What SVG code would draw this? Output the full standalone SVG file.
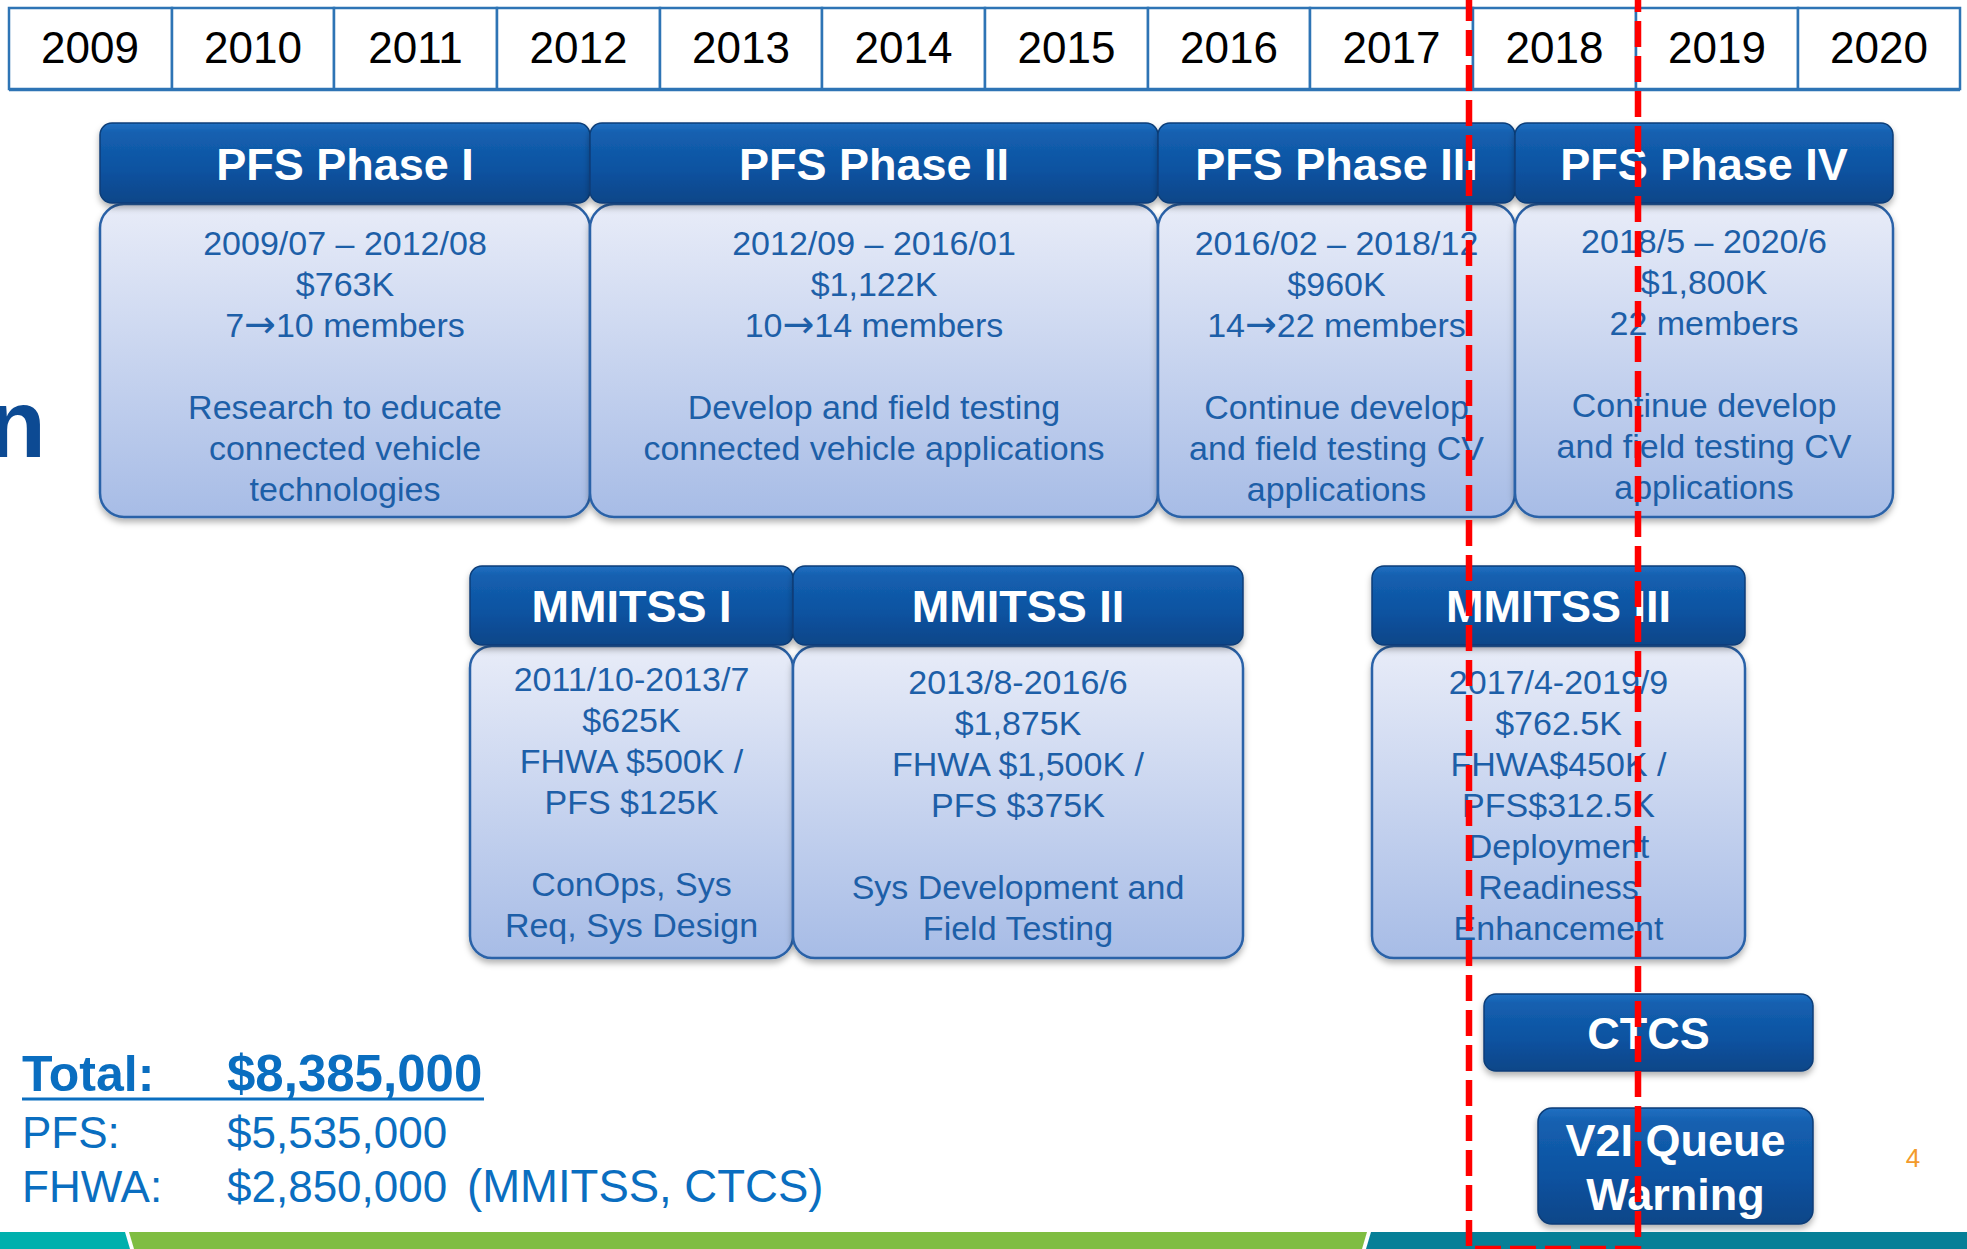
<svg xmlns="http://www.w3.org/2000/svg" width="1967" height="1249" viewBox="0 0 1967 1249">
<style>
  .yr { font-family: "Liberation Sans", Arial, sans-serif; font-size: 44px; fill: #000; text-anchor: middle; }
  .cell { fill: #fff; stroke: #2e74b5; stroke-width: 2.5; }
  .hdr { fill: url(#hdrGrad); stroke: #0a3d78; stroke-width: 1.5; filter: url(#shadow); }
  .body { fill: url(#bodyGrad); stroke: #2a62a8; stroke-width: 2.5; filter: url(#shadow); }
  .ht { font-family: "Liberation Sans", Arial, sans-serif; font-weight: bold; font-size: 45px; fill: #fff; text-anchor: middle; }
  .bt { font-family: "Liberation Sans", Arial, sans-serif; font-size: 34px; fill: #1d5fa8; text-anchor: middle; }
  .arr { font-family: "DejaVu Sans", sans-serif; font-size: 38px; }
  .tot { font-family: "Liberation Sans", Arial, sans-serif; fill: #0a6ec0; }
  .red { fill: none; stroke: #ff0000; stroke-width: 6.5; stroke-dasharray: 26 9; }
</style>
<defs>
  <linearGradient id="hdrGrad" x1="0" y1="0" x2="0" y2="1">
    <stop offset="0" stop-color="#2270c2"/>
    <stop offset="0.12" stop-color="#1460b0"/>
    <stop offset="0.6" stop-color="#0d52a0"/>
    <stop offset="1" stop-color="#0a4688"/>
  </linearGradient>
  <linearGradient id="bodyGrad" x1="0" y1="0" x2="0" y2="1">
    <stop offset="0" stop-color="#e8ecf8"/>
    <stop offset="1" stop-color="#a7bce6"/>
  </linearGradient>
  <filter id="shadow" x="-5%" y="-10%" width="110%" height="125%">
    <feDropShadow dx="0" dy="4" stdDeviation="3" flood-color="#000" flood-opacity="0.3"/>
  </filter>
</defs>

<g id="timeline">
  <rect class="cell" x="9" y="8" width="163" height="81"/>
  <rect class="cell" x="172" y="8" width="162" height="81"/>
  <rect class="cell" x="334" y="8" width="163" height="81"/>
  <rect class="cell" x="497" y="8" width="163" height="81"/>
  <rect class="cell" x="660" y="8" width="162" height="81"/>
  <rect class="cell" x="822" y="8" width="163" height="81"/>
  <rect class="cell" x="985" y="8" width="163" height="81"/>
  <rect class="cell" x="1148" y="8" width="162" height="81"/>
  <rect class="cell" x="1310" y="8" width="163" height="81"/>
  <rect class="cell" x="1473" y="8" width="163" height="81"/>
  <rect class="cell" x="1636" y="8" width="162" height="81"/>
  <rect class="cell" x="1798" y="8" width="162" height="81"/>
  <line x1="9" y1="90.5" x2="1960" y2="90.5" stroke="#2e74b5" stroke-width="1.5"/>
  <text class="yr" x="90" y="63">2009</text>
  <text class="yr" x="253" y="63">2010</text>
  <text class="yr" x="415.5" y="63">2011</text>
  <text class="yr" x="578.5" y="63">2012</text>
  <text class="yr" x="741" y="63">2013</text>
  <text class="yr" x="903.5" y="63">2014</text>
  <text class="yr" x="1066.5" y="63">2015</text>
  <text class="yr" x="1229" y="63">2016</text>
  <text class="yr" x="1391.5" y="63">2017</text>
  <text class="yr" x="1554.5" y="63">2018</text>
  <text class="yr" x="1717" y="63">2019</text>
  <text class="yr" x="1879" y="63">2020</text>
</g>

<text x="46" y="457" text-anchor="end" font-family="Liberation Sans, Arial, sans-serif" font-weight="bold" font-size="96" fill="#0c4a93">n</text>

<g id="pfs1">
  <rect class="body" x="100" y="204" width="490" height="313" rx="24"/>
  <rect class="hdr" x="100" y="123" width="490" height="80" rx="12"/>
  <text class="ht" x="345" y="180">PFS Phase I</text>
  <text class="bt"><tspan x="345" y="254.5">2009/07 – 2012/08</tspan><tspan x="345" y="295.5">$763K</tspan><tspan x="345" y="336.5">7<tspan class="arr">→</tspan>10 members</tspan><tspan x="345" y="418.5">Research to educate</tspan><tspan x="345" y="459.5">connected vehicle</tspan><tspan x="345" y="500.5">technologies</tspan></text>
</g>

<g id="pfs2">
  <rect class="body" x="590" y="204" width="568" height="313" rx="24"/>
  <rect class="hdr" x="590" y="123" width="568" height="80" rx="12"/>
  <text class="ht" x="874" y="180">PFS Phase II</text>
  <text class="bt"><tspan x="874" y="254.5">2012/09 – 2016/01</tspan><tspan x="874" y="295.5">$1,122K</tspan><tspan x="874" y="336.5">10<tspan class="arr">→</tspan>14 members</tspan><tspan x="874" y="418.5">Develop and field testing</tspan><tspan x="874" y="459.5">connected vehicle applications</tspan></text>
</g>

<g id="pfs3">
  <rect class="body" x="1158" y="204" width="357" height="313" rx="24"/>
  <rect class="hdr" x="1158" y="123" width="357" height="80" rx="12"/>
  <text class="ht" x="1336.5" y="180">PFS Phase III</text>
  <text class="bt"><tspan x="1336.5" y="254.5">2016/02 – 2018/12</tspan><tspan x="1336.5" y="295.5">$960K</tspan><tspan x="1336.5" y="336.5">14<tspan class="arr">→</tspan>22 members</tspan><tspan x="1336.5" y="418.5">Continue develop</tspan><tspan x="1336.5" y="459.5">and field testing CV</tspan><tspan x="1336.5" y="500.5">applications</tspan></text>
</g>

<g id="pfs4">
  <rect class="body" x="1515" y="204" width="378" height="313" rx="24"/>
  <rect class="hdr" x="1515" y="123" width="378" height="80" rx="12"/>
  <text class="ht" x="1704" y="180">PFS Phase IV</text>
  <text class="bt"><tspan x="1704" y="253">2018/5 – 2020/6</tspan><tspan x="1704" y="294">$1,800K</tspan><tspan x="1704" y="335">22 members</tspan><tspan x="1704" y="417">Continue develop</tspan><tspan x="1704" y="458">and field testing CV</tspan><tspan x="1704" y="499">applications</tspan></text>
</g>

<g id="mmitss1">
  <rect class="body" x="470" y="646" width="323" height="312" rx="22"/>
  <rect class="hdr" x="470" y="566" width="323" height="79" rx="12"/>
  <text class="ht" x="631.5" y="622">MMITSS I</text>
  <text class="bt"><tspan x="631.5" y="691">2011/10-2013/7</tspan><tspan x="631.5" y="732">$625K</tspan><tspan x="631.5" y="773">FHWA $500K /</tspan><tspan x="631.5" y="814">PFS $125K</tspan><tspan x="631.5" y="896">ConOps, Sys</tspan><tspan x="631.5" y="937">Req, Sys Design</tspan></text>
</g>

<g id="mmitss2">
  <rect class="body" x="793" y="646" width="450" height="312" rx="22"/>
  <rect class="hdr" x="793" y="566" width="450" height="79" rx="12"/>
  <text class="ht" x="1018" y="622">MMITSS II</text>
  <text class="bt"><tspan x="1018" y="694">2013/8-2016/6</tspan><tspan x="1018" y="735">$1,875K</tspan><tspan x="1018" y="776">FHWA $1,500K /</tspan><tspan x="1018" y="817">PFS $375K</tspan><tspan x="1018" y="899">Sys Development and</tspan><tspan x="1018" y="940">Field Testing</tspan></text>
</g>

<g id="mmitss3">
  <rect class="body" x="1372" y="646" width="373" height="312" rx="22"/>
  <rect class="hdr" x="1372" y="566" width="373" height="79" rx="12"/>
  <text class="ht" x="1558.5" y="622">MMITSS III</text>
  <text class="bt"><tspan x="1558.5" y="694">2017/4-2019/9</tspan><tspan x="1558.5" y="735">$762.5K</tspan><tspan x="1558.5" y="776">FHWA$450K /</tspan><tspan x="1558.5" y="817">PFS$312.5K</tspan><tspan x="1558.5" y="858">Deployment</tspan><tspan x="1558.5" y="899">Readiness</tspan><tspan x="1558.5" y="940">Enhancement</tspan></text>
</g>

<g id="ctcs">
  <rect class="hdr" x="1484" y="994" width="329" height="77" rx="12"/>
  <text class="ht" x="1648.5" y="1049">CTCS</text>
</g>

<g id="v2i">
  <rect class="hdr" x="1538" y="1108" width="275" height="116" rx="14"/>
  <text class="ht"><tspan x="1675.5" y="1156">V2I Queue</tspan><tspan x="1675.5" y="1210">Warning</tspan></text>
</g>

<g id="totals">
  <text class="tot" x="22" y="1091" font-weight="bold" font-size="50">Total:</text>
  <text class="tot" x="227" y="1091" font-weight="bold" font-size="51">$8,385,000</text>
  <line x1="22" y1="1099" x2="484" y2="1099" stroke="#0a6ec0" stroke-width="3"/>
  <text class="tot" x="22" y="1148" font-size="44">PFS:</text>
  <text class="tot" x="227" y="1148" font-size="44">$5,535,000</text>
  <text class="tot" x="22" y="1202" font-size="44">FHWA:</text>
  <text class="tot" x="227" y="1202" font-size="44">$2,850,000 <tspan x="467" font-size="45.5">(MMITSS, CTCS)</tspan></text>
</g>

<text x="1913" y="1167" text-anchor="middle" font-family="Liberation Sans, Arial, sans-serif" font-size="26" fill="#f39a2b">4</text>

<g id="footer-bar">
  <polygon points="0,1232 125,1232 130,1249 0,1249" fill="#00b0ad"/>
  <polygon points="129,1232 1367,1232 1362,1249 134,1249" fill="#7fbd42"/>
  <polygon points="1371,1232 1967,1232 1967,1249 1366,1249" fill="#067f97"/>
</g>

<g id="connectors">
  <rect class="red" x="1469" y="-20" width="169" height="1269"/>
</g>
</svg>
